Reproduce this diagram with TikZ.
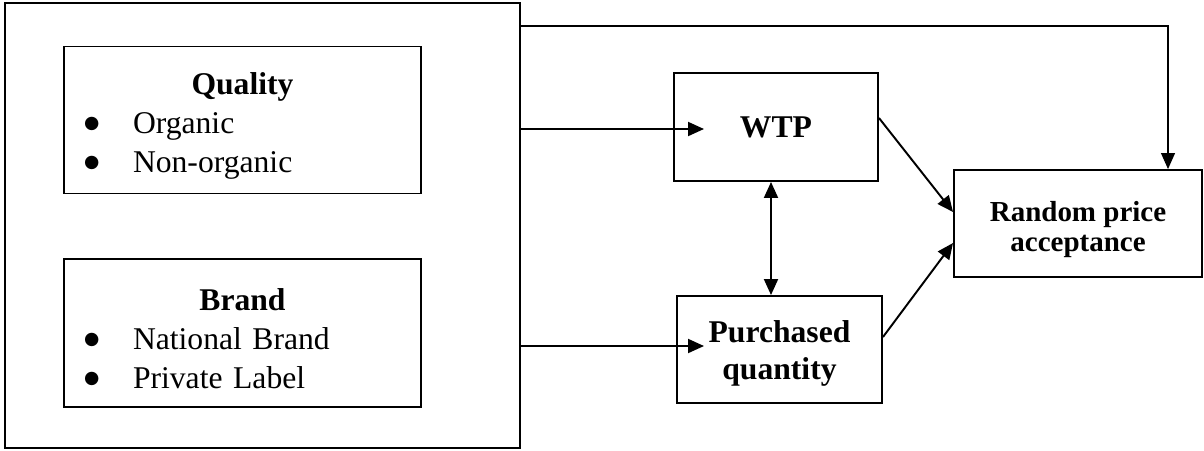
\documentclass[tikz,border=0pt]{standalone}
\usepackage{fontspec}
\setmainfont{Liberation Serif}
\newfontfamily\symfont{DejaVu Sans}
\usetikzlibrary{positioning,arrows.meta,calc}

\newcommand{\bul}{\makebox[0.92cm][l]{\hspace*{-0.06cm}\raisebox{0.1cm}{\symfont\fontsize{10}{10}\selectfont ●}}}
\newcommand{\heading}[1]{\makebox[\hsize]{\rule{0pt}{0.67cm}\bfseries #1}}

\begin{document}
\begin{tikzpicture}[
    >={Triangle[length=0.32cm,width=0.28cm]},
    box/.style={draw, line width=1.1pt, inner sep=0pt, align=center},
    factor/.style={box, minimum width=7.14cm, minimum height=2.94cm, text width=6.22cm, align=left, font=\fontsize{18}{22}\selectfont},
    outcome/.style={box, minimum width=4.08cm, minimum height=2.14cm, font=\fontsize{18}{21}\selectfont\bfseries},
    link/.style={line width=1.1pt, ->},
  ]
  \useasboundingbox (0,0) rectangle (24.08,-9);

  % attributes
  \node[box, minimum width=10.3cm, minimum height=8.9cm] (frame) at (5.25,-4.51) {};
  \node[factor] (quality) at (4.85,-2.4) {\heading{Quality}\\\bul Organic\\\bul Non-organic};
  \node[factor, minimum height=2.96cm] (brand) at (4.85,-6.66) {\heading{Brand}\\\bul National Brand\\\bul Private Label};

  % outcomes
  \node[outcome, minimum height=2.16cm] (wtp) at (15.52,-2.54) {WTP};
  \node[outcome, minimum width=4.1cm] (pq) at (15.59,-6.99) {\rule{0pt}{0.59cm}Purchased\\quantity};
  \node[outcome, minimum width=4.96cm, font=\fontsize{16.5}{17.5}\selectfont\bfseries] (rpa) at (21.56,-4.47) {\rule{0pt}{0.64cm}Random price\\acceptance};

  \coordinate (wtpin) at (14.08,-2.58);
  \coordinate (pqin) at (14.08,-6.92);
  \coordinate (turn) at (23.36,-0.52);

  \begin{scope}[link]
    \draw (frame.east |- wtpin) -- (wtpin);
    \draw (frame.east |- pqin) -- (pqin);
    \draw[<->] ([xshift=-0.1cm]wtp.south) -- ([xshift=-0.1cm]wtp.south |- pq.north);
    \draw ([yshift=0.18cm]wtp.east) -- ([yshift=0.23cm]rpa.west);
    \draw ([yshift=0.25cm]pq.east) -- ([yshift=-0.39cm]rpa.west);
    \draw[line width=0.6pt] (frame.east |- turn) -| (turn |- rpa.north);
  \end{scope}
\end{tikzpicture}
\end{document}
